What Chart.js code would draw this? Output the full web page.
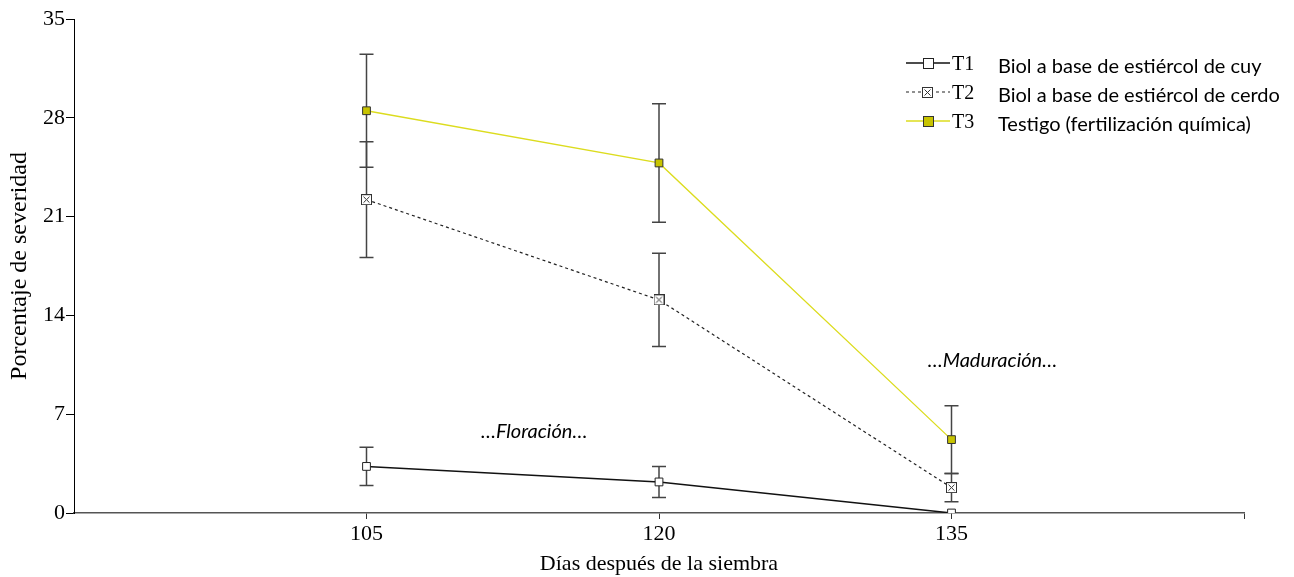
<!DOCTYPE html>
<html><head><meta charset="utf-8">
<script src="https://cdn.jsdelivr.net/npm/chart.js@4/dist/chart.umd.min.js"></script>
<style>html,body{margin:0;padding:0;background:#fff}#wrap{width:1294px;height:577px;position:relative}</style>
</head><body><div id="wrap"><canvas id="c" width="1294" height="577"></canvas></div>
<script>
const days = [105, 120, 135];
const xTicks = [105, 120, 135, 150];
const yTicks = [0, 7, 14, 21, 28, 35];
const t1 = [3.3, 2.2, 0.0];
const t1Err = [1.35, 1.1, 0.0];
const t2 = [22.2, 15.1, 1.8];
const t2Err = [4.1, 3.3, 1.0];
const t3 = [28.5, 24.8, 5.2];
const t3Err = [4.0, 4.2, 2.4];
const seriesCodes = ['T1', 'T2', 'T3'];
const seriesNames = ['Biol a base de estiércol de cuy', 'Biol a base de estiércol de cerdo', 'Testigo (fertilización química)'];
const notes = [{text: '…Floración…', x: 113.6, y: 5.75}, {text: '…Maduración…', x: 137.1, y: 10.8}];

const serif = "'Liberation Serif','DejaVu Serif',serif";
const sans = "Lato,'Open Sans',sans-serif";

function crossBox(){
  const c = document.createElement('canvas'); c.width = 11; c.height = 11;
  const g = c.getContext('2d');
  g.fillStyle = '#fff'; g.fillRect(0,0,11,11);
  g.strokeStyle = '#333'; g.lineWidth = 1;
  g.strokeRect(0.5,0.5,10,10);
  g.beginPath(); g.moveTo(2.5,2.5); g.lineTo(8.5,8.5); g.moveTo(8.5,2.5); g.lineTo(2.5,8.5); g.stroke();
  return c;
}
const t2Icon = crossBox();

const pts = arr => days.map((d,i)=>({x:d, y:arr[i]}));
const errs = [t1Err, t2Err, t3Err];
const vals = [t1, t2, t3];

const errorBars = {
  id: 'errorBars',
  beforeDatasetsDraw(chart){
    const {ctx, scales:{x, y}} = chart;
    ctx.save(); ctx.strokeStyle = '#444'; ctx.lineWidth = 1.5;
    vals.forEach((v, s) => {
      v.forEach((val, i) => {
        const e = errs[s][i]; if (!e) return;
        const px = x.getPixelForValue(days[i]);
        const top = y.getPixelForValue(val + e), bot = y.getPixelForValue(val - e);
        ctx.beginPath();
        ctx.moveTo(px, top); ctx.lineTo(px, bot);
        ctx.moveTo(px-7, top); ctx.lineTo(px+7, top);
        ctx.moveTo(px-7, bot); ctx.lineTo(px+7, bot);
        ctx.stroke();
      });
    });
    ctx.restore();
  }
};

const extras = {
  id: 'extras',
  afterDraw(chart){
    const {ctx, scales:{x, y}} = chart;
    ctx.save();
    ctx.fillStyle = '#000'; ctx.font = "italic 20px " + sans; ctx.textAlign = 'center'; ctx.textBaseline = 'middle';
    notes.forEach(n => ctx.fillText(n.text, x.getPixelForValue(n.x), y.getPixelForValue(n.y)));
    const ds = chart.data.datasets;
    const lx = 906, rows = [63, 92, 121];
    ds.forEach((d, i) => {
      const yy = rows[i];
      ctx.strokeStyle = d.borderColor; ctx.lineWidth = d.borderWidth; ctx.setLineDash(d.borderDash || []);
      ctx.beginPath(); ctx.moveTo(lx, yy); ctx.lineTo(lx+44, yy); ctx.stroke(); ctx.setLineDash([]);
      if (i === 1) { ctx.fillStyle = '#fff'; ctx.fillRect(lx+16, yy-6, 12, 12); ctx.drawImage(t2Icon, lx+16, yy-5); }
      else {
        ctx.fillStyle = d.pointBackgroundColor; ctx.fillRect(lx+17, yy-5, 10, 10);
        ctx.strokeStyle = d.pointBorderColor; ctx.lineWidth = 1; ctx.strokeRect(lx+17.5, yy-4.5, 10, 10);
      }
      ctx.fillStyle = '#000'; ctx.textAlign = 'left'; ctx.textBaseline = 'middle';
      ctx.font = "20px " + serif; ctx.fillText(seriesCodes[i], lx+46, yy+2);
      ctx.font = "20px " + sans; ctx.fillText(seriesNames[i], 998, yy+4);
    });
    ctx.restore();
  }
};

new Chart(document.getElementById('c'), {
  type: 'line',
  data: { datasets: [
    { label: seriesCodes[0], data: pts(t1), borderColor: '#111', borderWidth: 1.5, pointStyle: 'rect', pointRadius: 5.5,
      pointBackgroundColor: '#fff', pointBorderColor: '#222', pointBorderWidth: 1, tension: 0 },
    { label: seriesCodes[1], data: pts(t2), borderColor: '#222', borderWidth: 1.2, borderDash: [3,3], pointStyle: t2Icon,
      pointBackgroundColor: '#fff', pointBorderColor: '#222', tension: 0 },
    { label: seriesCodes[2], data: pts(t3), borderColor: '#dcdc1e', borderWidth: 1.3, pointStyle: 'rect', pointRadius: 5.5,
      pointBackgroundColor: '#c8c400', pointBorderColor: '#333', pointBorderWidth: 1, tension: 0 }
  ]},
  options: {
    responsive: false, animation: false, devicePixelRatio: 1,
    layout: { padding: { top: 19, right: 50, left: 0, bottom: 0 } },
    plugins: { legend: { display: false }, tooltip: { enabled: false } },
    scales: {
      x: { type: 'linear', min: 90, max: 150,
        afterBuildTicks: s => { s.ticks = xTicks.map(v => ({value: v})); },
        afterFit: s => { s.height = 64; },
        ticks: { callback: v => (v === 150 ? '' : String(v)), color: '#000', font: { family: serif, size: 22 }, padding: 2, maxRotation: 0 },
        grid: { display: true, drawOnChartArea: false, drawTicks: true, tickLength: 6, color: '#333' },
        border: { display: true, color: '#555', width: 1.5 },
        title: { display: true, text: 'Días después de la siembra', color: '#000', font: { family: serif, size: 22 }, padding: { top: 0, bottom: 0 } }
      },
      y: { min: 0, max: 35,
        afterBuildTicks: s => { s.ticks = yTicks.map(v => ({value: v})); },
        afterFit: s => { s.width = 74; },
        ticks: { color: '#000', font: { family: serif, size: 22 }, padding: 1 },
        grid: { display: true, drawOnChartArea: false, drawTicks: true, tickLength: 8, color: '#000' },
        border: { display: true, color: '#000', width: 1 },
        title: { display: true, text: 'Porcentaje de severidad', color: '#000', font: { family: serif, size: 24 }, padding: { top: 5, bottom: 0 } }
      }
    }
  },
  plugins: [errorBars, extras]
});
</script></body></html>
